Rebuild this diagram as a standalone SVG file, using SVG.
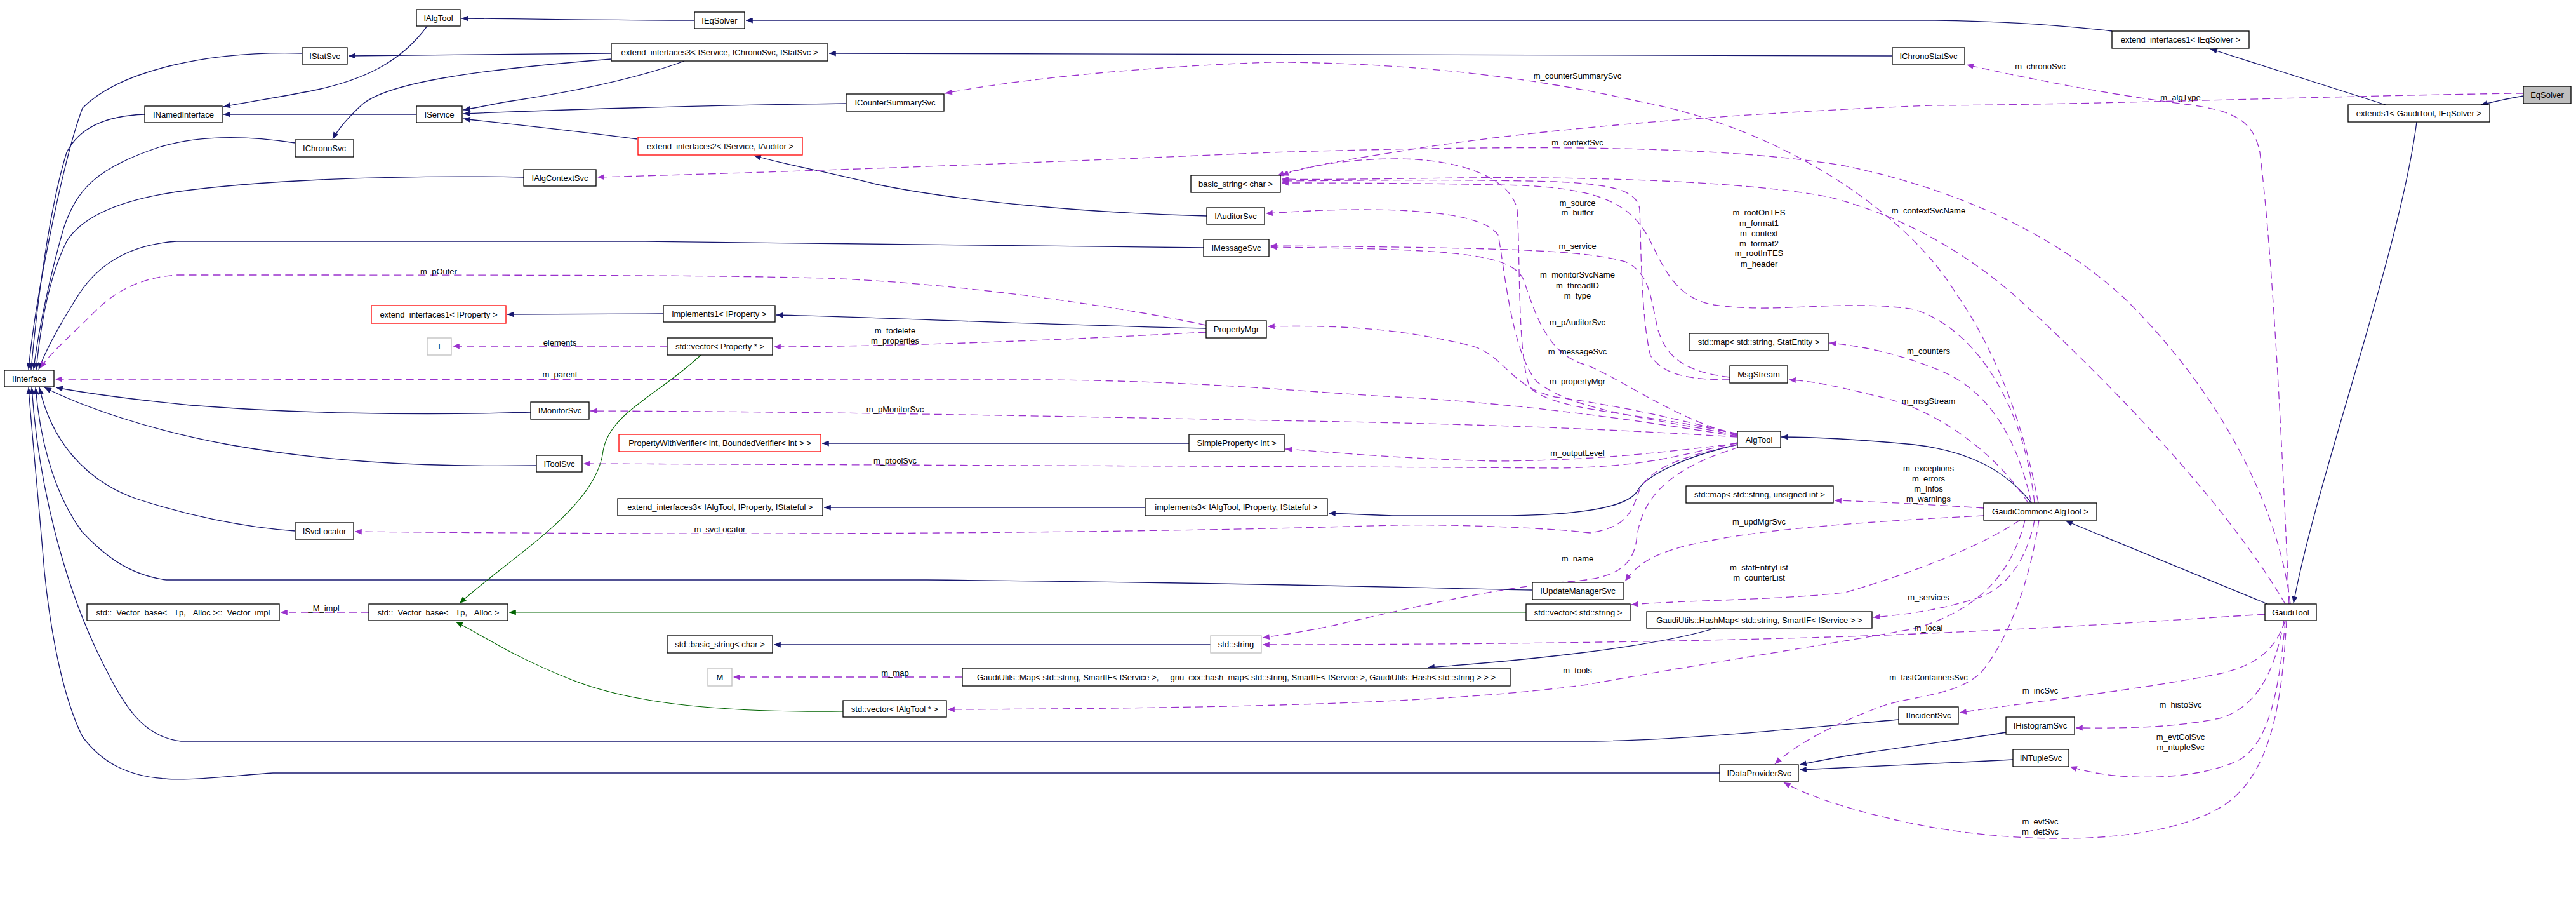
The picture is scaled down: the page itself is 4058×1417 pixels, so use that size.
<svg xmlns="http://www.w3.org/2000/svg" width="4058" height="1417" viewBox="0 0 4058 1417">
<style>
.n rect{fill:#fff;stroke:#000;stroke-width:1.3}
.n.r rect{stroke:#ff0000}
.n.g rect{stroke:#bfbfbf}
.n.cur rect{fill:#bfbfbf}
text{font-family:"Liberation Sans",Arial,sans-serif;font-size:13px;text-anchor:middle;dominant-baseline:central;fill:#000}
.i{stroke:#191970;fill:none;stroke-width:1.3;marker-end:url(#ai)}
.u{stroke:#9a32cd;fill:none;stroke-width:1.3;stroke-dasharray:12,7;marker-end:url(#au)}
.t{stroke:#006400;fill:none;stroke-width:1.1;marker-end:url(#at)}
</style>
<defs>
<marker id="ai" viewBox="0 0 12 10" markerUnits="userSpaceOnUse" markerWidth="12" markerHeight="9" refX="12" refY="5" orient="auto"><path d="M0,0 L12,5 L0,10 z" fill="#191970" stroke="none"/></marker>
<marker id="au" viewBox="0 0 12 10" markerUnits="userSpaceOnUse" markerWidth="12" markerHeight="9" refX="12" refY="5" orient="auto"><path d="M0,0 L12,5 L0,10 z" fill="#9a32cd" stroke="none"/></marker>
<marker id="at" viewBox="0 0 12 10" markerUnits="userSpaceOnUse" markerWidth="12" markerHeight="9" refX="12" refY="5" orient="auto"><path d="M0,0 L12,5 L0,10 z" fill="#006400" stroke="none"/></marker>
</defs>
<rect width="4058" height="1417" fill="#fff"/>
<g id="edges">
<!-- inheritance -->
<path class="i" d="M673,41 C630,100 570,125 505,140 C450,152 390,160 352,168"/>
<path class="i" d="M476,84 C330,80 190,110 130,170 C100,250 55,470 45,582"/>
<path class="i" d="M228,180 C170,182 125,200 105,240 C80,320 60,460 49,582"/>
<path class="i" d="M465,225 C400,215 320,210 250,232 C150,265 120,300 100,360 C80,430 60,520 53,582"/>
<path class="i" d="M825,279 C600,275 400,285 278,302 C190,315 130,340 105,380 C80,430 65,500 57,582"/>
<path class="i" d="M1896,390 C1500,386 1200,381 1000,380 L278,380 C200,385 150,420 120,470 C95,510 72,550 61,582"/>
<path class="i" d="M836,649 C650,655 450,650 300,638 C200,628 130,618 88,610"/>
<path class="i" d="M845,733 C650,736 500,725 360,700 C230,676 130,640 70,610"/>
<path class="i" d="M465,836 C380,830 290,810 214,785 C130,755 80,690 62,610"/>
<path class="i" d="M2414,929 C2200,925 2000,918 1460,913 L262,913 C200,905 160,870 129,837 C80,770 62,680 56,610"/>
<path class="i" d="M2991,1133 C2800,1150 2650,1165 2511,1167 L285,1167 C220,1160 190,1100 160,1040 C100,920 60,760 50,610"/>
<path class="i" d="M2709,1217 L430,1217 C380,1220 300,1230 260,1226 C200,1222 160,1200 130,1160 C100,1100 80,1000 70,900 C60,780 50,680 45,610"/>
<path class="i" d="M656,180 L352,180"/>
<path class="i" d="M1094,32 C900,32 800,29 727,29"/>
<path class="i" d="M3327,49 C3250,40 3150,33 3040,32 L1175,32"/>
<path class="i" d="M2981,88 L1306,84"/>
<path class="i" d="M963,84 L549,88"/>
<path class="i" d="M963,93 C750,110 610,130 570,165 C545,188 532,205 524,219"/>
<path class="i" d="M1078,96 C1000,125 900,145 800,160 C770,165 750,170 730,173"/>
<path class="i" d="M1333,163 C1100,166 900,172 730,179"/>
<path class="i" d="M1004,219 C900,205 800,195 730,187"/>
<path class="i" d="M1901,340 C1700,335 1500,315 1380,290 C1300,270 1240,260 1188,245"/>
<path class="i" d="M3758,165 L3482,77"/>
<path class="i" d="M3975,151 C3950,155 3930,160 3908,165"/>
<path class="i" d="M3807,192 C3780,400 3650,750 3613,950"/>
<path class="i" d="M3572,951 L3254,820"/>
<path class="i" d="M3200,792 C3160,740 3100,710 3015,700 C2930,692 2870,688 2806,688"/>
<path class="i" d="M2737,700 C2650,720 2590,750 2578,775 C2560,800 2480,812 2356,812 L2194,812 C2150,810 2120,809 2093,808"/>
<path class="i" d="M1804,799 L1298,799"/>
<path class="i" d="M1873,698 L1295,698"/>
<path class="i" d="M1900,517 C1600,510 1400,500 1223,496"/>
<path class="i" d="M1045,494 L799,495"/>
<path class="i" d="M1907,1015 L1219,1015"/>
<path class="i" d="M2702,989 C2600,1020 2400,1040 2249,1051"/>
<path class="i" d="M3160,1153 C3060,1170 2950,1180 2835,1204"/>
<path class="i" d="M3171,1196 C3060,1202 2950,1206 2835,1212"/>
<!-- template -->
<path class="t" d="M1104,559 C1040,620 960,650 950,710 C940,800 800,880 724,950"/>
<path class="t" d="M2404,964 L802,964"/>
<path class="t" d="M1328,1120 C1150,1122 1000,1110 900,1070 C800,1030 760,1000 718,979"/>
<!-- usage -->
<path class="u" d="M581,964 L442,964"/>
<path class="u" d="M1516,1066 L1155,1066"/>
<path class="u" d="M1051,545 L713,545"/>
<path class="u" d="M1900,523 C1800,528 1500,545 1219,546"/>
<path class="u" d="M1900,512 C1750,480 1500,445 1300,438 C1100,433 900,433 278,433 C220,437 180,460 150,490 C110,530 80,555 63,580"/>
<path class="u" d="M2737,687 C2600,665 2400,635 2200,625 C2050,617 1900,600 1647,598 L87,597"/>
<path class="u" d="M2737,688 C2600,680 2400,668 2000,662 C1700,656 1300,648 930,647"/>
<path class="u" d="M2737,697 C2650,715 2600,735 2453,737 C2200,735 1600,733 919,730"/>
<path class="u" d="M2737,698 C2600,715 2500,725 2356,726 C2200,722 2100,712 2025,707"/>
<path class="u" d="M2737,700 C2640,720 2600,740 2583,770 C2570,810 2560,830 2505,839 C2450,832 2300,825 2194,827 C1900,836 1500,841 1015,840 C800,839 650,838 559,837"/>
<path class="u" d="M2740,704 C2620,740 2585,790 2578,850 C2572,895 2540,910 2480,915 C2380,922 2250,950 2100,985 C2050,995 2020,1000 1989,1004"/>
<path class="u" d="M2737,683 C2640,660 2560,640 2450,625 C2380,610 2370,560 2320,545 C2200,515 2100,512 1997,514"/>
<path class="u" d="M2737,685 C2640,660 2560,600 2500,575 C2440,560 2420,500 2400,440 C2380,400 2300,392 2001,389"/>
<path class="u" d="M2737,686 C2620,660 2480,650 2420,600 C2380,550 2370,420 2360,370 C2340,340 2250,330 2150,330 C2080,330 2030,334 1994,336"/>
<path class="u" d="M2737,684 C2600,650 2450,650 2410,610 C2390,560 2395,400 2390,330 C2380,280 2300,250 2200,250 C2120,250 2060,262 2019,276"/>
<path class="u" d="M2725,598 C2660,598 2620,590 2600,560 C2585,500 2585,380 2583,330 C2580,300 2540,290 2450,286 C2300,282 2150,284 2019,285"/>
<path class="u" d="M2725,594 C2650,585 2625,560 2612,520 C2600,470 2600,430 2560,412 C2500,395 2400,390 2001,387"/>
<path class="u" d="M3211,792 C3190,680 3150,560 3080,460 C3000,330 2800,200 2583,160 C2400,118 2200,98 2000,98 C1800,105 1600,125 1489,147"/>
<path class="u" d="M3205,792 C3190,650 3120,520 3015,487 C2900,470 2800,495 2700,480 C2640,470 2620,420 2600,380 C2570,320 2520,298 2400,292 C2250,288 2100,288 2019,288"/>
<path class="u" d="M3600,951 C3500,780 3300,580 3179,470 C3100,400 3000,340 2880,310 C2750,285 2500,278 2300,280 C2150,282 2070,283 2019,282"/>
<path class="u" d="M3608,951 C3590,800 3500,620 3347,470 C3250,380 3100,300 2900,260 C2700,228 2400,228 2000,240 C1600,258 1200,272 941,279"/>
<path class="u" d="M3606,951 C3595,700 3580,400 3560,240 C3550,190 3520,175 3450,165 C3330,150 3200,125 3098,102"/>
<path class="u" d="M3975,147 C3700,150 3300,165 3040,166 C2700,180 2400,205 2194,240 C2100,255 2040,266 2012,277"/>
<path class="u" d="M3200,792 C3180,700 3140,620 3060,585 C3000,560 2940,545 2882,540"/>
<path class="u" d="M3195,792 C3150,720 3060,650 2971,627 C2900,610 2860,600 2818,598"/>
<path class="u" d="M3125,800 C3050,795 2960,790 2890,788"/>
<path class="u" d="M3125,812 C3000,818 2800,830 2700,850 C2620,865 2585,880 2560,915"/>
<path class="u" d="M3182,819 C3120,860 3020,900 2906,933 C2800,945 2650,945 2570,952"/>
<path class="u" d="M3205,819 C3195,870 3170,920 3120,940 C3060,960 3000,968 2951,972"/>
<path class="u" d="M3190,819 C3170,900 3120,960 3015,990 C2850,1020 2650,1050 2500,1078 C2300,1105 2000,1115 1493,1117"/>
<path class="u" d="M3212,819 C3200,900 3170,1000 3120,1060 C3080,1095 3020,1095 2970,1110 C2900,1135 2830,1170 2796,1203"/>
<path class="u" d="M3568,967 C3400,978 3234,989 3040,997 C2800,1008 2400,1015 1989,1015"/>
<path class="u" d="M3600,977 C3585,1020 3560,1045 3500,1060 C3380,1085 3200,1105 3087,1122"/>
<path class="u" d="M3598,977 C3585,1050 3560,1110 3500,1130 C3420,1148 3330,1146 3270,1146"/>
<path class="u" d="M3600,977 C3590,1100 3570,1180 3520,1200 C3450,1230 3330,1230 3261,1207"/>
<path class="u" d="M3602,977 C3595,1100 3580,1220 3500,1270 C3400,1330 3200,1330 3040,1302 C2950,1285 2860,1260 2810,1232"/>
</g>
<g id="edge-labels">
<text x="510" y="957">_M_impl</text>
<text x="1410" y="1059">m_map</text>
<text x="882" y="539">elements</text>
<text x="1410" y="520">m_todelete</text>
<text x="1410" y="536">m_properties</text>
<text x="691" y="427">m_pOuter</text>
<text x="882" y="589">m_parent</text>
<text x="1410" y="644">m_pMonitorSvc</text>
<text x="1410" y="725">m_ptoolSvc</text>
<text x="1134" y="833">m_svcLocator</text>
<text x="2485" y="119">m_counterSummarySvc</text>
<text x="2485" y="224">m_contextSvc</text>
<text x="2485" y="319">m_source</text>
<text x="2485" y="334">m_buffer</text>
<text x="2485" y="387">m_service</text>
<text x="2485" y="432">m_monitorSvcName</text>
<text x="2485" y="449">m_threadID</text>
<text x="2485" y="465">m_type</text>
<text x="2485" y="507">m_pAuditorSvc</text>
<text x="2485" y="553">m_messageSvc</text>
<text x="2485" y="600">m_propertyMgr</text>
<text x="2485" y="713">m_outputLevel</text>
<text x="2485" y="879">m_name</text>
<text x="2485" y="1055">m_tools</text>
<text x="2771" y="334">m_rootOnTES</text>
<text x="2771" y="351">m_format1</text>
<text x="2771" y="367">m_context</text>
<text x="2771" y="383">m_format2</text>
<text x="2771" y="398">m_rootInTES</text>
<text x="2771" y="415">m_header</text>
<text x="2771" y="821">m_updMgrSvc</text>
<text x="2771" y="893">m_statEntityList</text>
<text x="2771" y="909">m_counterList</text>
<text x="3038" y="331">m_contextSvcName</text>
<text x="3038" y="552">m_counters</text>
<text x="3038" y="631">m_msgStream</text>
<text x="3038" y="737">m_exceptions</text>
<text x="3038" y="753">m_errors</text>
<text x="3038" y="769">m_infos</text>
<text x="3038" y="785">m_warnings</text>
<text x="3038" y="940">m_services</text>
<text x="3038" y="988">m_local</text>
<text x="3038" y="1066">m_fastContainersSvc</text>
<text x="3214" y="104">m_chronoSvc</text>
<text x="3214" y="1087">m_incSvc</text>
<text x="3214" y="1293">m_evtSvc</text>
<text x="3214" y="1309">m_detSvc</text>
<text x="3435" y="153">m_algType</text>
<text x="3435" y="1109">m_histoSvc</text>
<text x="3435" y="1160">m_evtColSvc</text>
<text x="3435" y="1176">m_ntupleSvc</text>
</g>
<g id="IAlgTool" class="n"><rect x="656" y="15" width="69" height="26"/><text x="690.5" y="28">IAlgTool</text></g>
<g id="IEqSolver" class="n"><rect x="1094" y="19" width="79" height="26"/><text x="1133.5" y="32">IEqSolver</text></g>
<g id="extend_interfaces1_IEqSolver" class="n"><rect x="3327" y="49" width="216" height="27"/><text x="3435" y="62.5">extend_interfaces1&lt; IEqSolver &gt;</text></g>
<g id="IStatSvc" class="n"><rect x="476" y="75" width="71" height="26"/><text x="511.5" y="88">IStatSvc</text></g>
<g id="extend_interfaces3_IService" class="n"><rect x="963" y="69" width="341" height="27"/><text x="1133.5" y="82.5">extend_interfaces3&lt; IService, IChronoSvc, IStatSvc &gt;</text></g>
<g id="IChronoStatSvc" class="n"><rect x="2981" y="75" width="114" height="26"/><text x="3038" y="88">IChronoStatSvc</text></g>
<g id="EqSolver" class="n cur"><rect x="3975" y="136" width="75" height="27"/><text x="4012.5" y="149.5">EqSolver</text></g>
<g id="extends1" class="n"><rect x="3699" y="165" width="223" height="27"/><text x="3810.5" y="178.5">extends1&lt; GaudiTool, IEqSolver &gt;</text></g>
<g id="ICounterSummarySvc" class="n"><rect x="1333" y="148" width="154" height="27"/><text x="1410" y="161.5">ICounterSummarySvc</text></g>
<g id="INamedInterface" class="n"><rect x="228" y="167" width="122" height="26"/><text x="289" y="180">INamedInterface</text></g>
<g id="IService" class="n"><rect x="656" y="167" width="72" height="26"/><text x="692" y="180">IService</text></g>
<g id="IChronoSvc" class="n"><rect x="465" y="220" width="92" height="27"/><text x="511" y="233.5">IChronoSvc</text></g>
<g id="extend_interfaces2" class="n r"><rect x="1005" y="216" width="259" height="28"/><text x="1134.5" y="230">extend_interfaces2&lt; IService, IAuditor &gt;</text></g>
<g id="IAlgContextSvc" class="n"><rect x="825" y="267" width="114" height="26"/><text x="882" y="280">IAlgContextSvc</text></g>
<g id="basic_string_char" class="n"><rect x="1876" y="276" width="141" height="27"/><text x="1946.5" y="289.5">basic_string&lt; char &gt;</text></g>
<g id="IAuditorSvc" class="n"><rect x="1901" y="327" width="91" height="26"/><text x="1946.5" y="340">IAuditorSvc</text></g>
<g id="IMessageSvc" class="n"><rect x="1896" y="377" width="103" height="27"/><text x="1947.5" y="390.5">IMessageSvc</text></g>
<g id="extend_interfaces1_IProperty" class="n r"><rect x="585" y="481" width="212" height="28"/><text x="691" y="495">extend_interfaces1&lt; IProperty &gt;</text></g>
<g id="implements1_IProperty" class="n"><rect x="1045" y="481" width="176" height="26"/><text x="1133" y="494">implements1&lt; IProperty &gt;</text></g>
<g id="PropertyMgr" class="n"><rect x="1900" y="505" width="95" height="27"/><text x="1947.5" y="518.5">PropertyMgr</text></g>
<g id="map_StatEntity" class="n"><rect x="2661" y="525" width="219" height="27"/><text x="2770.5" y="538.5">std::map&lt; std::string, StatEntity &gt;</text></g>
<g id="T" class="n g"><rect x="673" y="532" width="38" height="27"/><text x="692" y="545.5">T</text></g>
<g id="vector_Property" class="n"><rect x="1051" y="532" width="166" height="27"/><text x="1134" y="545.5">std::vector&lt; Property * &gt;</text></g>
<g id="MsgStream" class="n"><rect x="2725" y="576" width="91" height="27"/><text x="2770.5" y="589.5">MsgStream</text></g>
<g id="IInterface" class="n"><rect x="7" y="583" width="78" height="26"/><text x="46" y="596">IInterface</text></g>
<g id="IMonitorSvc" class="n"><rect x="836" y="633" width="92" height="27"/><text x="882" y="646.5">IMonitorSvc</text></g>
<g id="AlgTool" class="n"><rect x="2737" y="679" width="68" height="26"/><text x="2771" y="692">AlgTool</text></g>
<g id="PropertyWithVerifier" class="n r"><rect x="975" y="684" width="318" height="27"/><text x="1134" y="697.5">PropertyWithVerifier&lt; int, BoundedVerifier&lt; int &gt; &gt;</text></g>
<g id="SimpleProperty_int" class="n"><rect x="1873" y="684" width="150" height="27"/><text x="1948" y="697.5">SimpleProperty&lt; int &gt;</text></g>
<g id="IToolSvc" class="n"><rect x="845" y="717" width="72" height="26"/><text x="881" y="730">IToolSvc</text></g>
<g id="map_unsigned" class="n"><rect x="2656" y="765" width="232" height="27"/><text x="2772" y="778.5">std::map&lt; std::string, unsigned int &gt;</text></g>
<g id="extend_interfaces3_IAlgTool" class="n"><rect x="973" y="785" width="323" height="27"/><text x="1134.5" y="798.5">extend_interfaces3&lt; IAlgTool, IProperty, IStateful &gt;</text></g>
<g id="implements3" class="n"><rect x="1804" y="785" width="287" height="27"/><text x="1947.5" y="798.5">implements3&lt; IAlgTool, IProperty, IStateful &gt;</text></g>
<g id="GaudiCommon_AlgTool" class="n"><rect x="3125" y="792" width="178" height="27"/><text x="3214" y="805.5">GaudiCommon&lt; AlgTool &gt;</text></g>
<g id="ISvcLocator" class="n"><rect x="465" y="823" width="92" height="26"/><text x="511" y="836">ISvcLocator</text></g>
<g id="IUpdateManagerSvc" class="n"><rect x="2414" y="917" width="143" height="27"/><text x="2485.5" y="930.5">IUpdateManagerSvc</text></g>
<g id="Vector_impl" class="n"><rect x="137" y="951" width="303" height="26"/><text x="288.5" y="964">std::_Vector_base&lt; _Tp, _Alloc &gt;::_Vector_impl</text></g>
<g id="Vector_base" class="n"><rect x="581" y="951" width="219" height="26"/><text x="690.5" y="964">std::_Vector_base&lt; _Tp, _Alloc &gt;</text></g>
<g id="vector_string" class="n"><rect x="2404" y="951" width="164" height="26"/><text x="2486" y="964">std::vector&lt; std::string &gt;</text></g>
<g id="GaudiTool" class="n"><rect x="3568" y="951" width="81" height="26"/><text x="3608.5" y="964">GaudiTool</text></g>
<g id="HashMap" class="n"><rect x="2594" y="963" width="355" height="26"/><text x="2771.5" y="976">GaudiUtils::HashMap&lt; std::string, SmartIF&lt; IService &gt; &gt;</text></g>
<g id="std_basic_string" class="n"><rect x="1051" y="1001" width="166" height="27"/><text x="1134" y="1014.5">std::basic_string&lt; char &gt;</text></g>
<g id="std_string" class="n g"><rect x="1907" y="1001" width="80" height="27"/><text x="1947" y="1014.5">std::string</text></g>
<g id="M" class="n g"><rect x="1115" y="1052" width="38" height="28"/><text x="1134" y="1066">M</text></g>
<g id="GaudiUtils_Map" class="n"><rect x="1516" y="1052" width="863" height="28"/><text x="1947.5" y="1066">GaudiUtils::Map&lt; std::string, SmartIF&lt; IService &gt;, __gnu_cxx::hash_map&lt; std::string, SmartIF&lt; IService &gt;, GaudiUtils::Hash&lt; std::string &gt; &gt; &gt;</text></g>
<g id="vector_IAlgTool" class="n"><rect x="1328" y="1103" width="163" height="26"/><text x="1409.5" y="1116">std::vector&lt; IAlgTool * &gt;</text></g>
<g id="IIncidentSvc" class="n"><rect x="2991" y="1113" width="94" height="27"/><text x="3038" y="1126.5">IIncidentSvc</text></g>
<g id="IHistogramSvc" class="n"><rect x="3160" y="1129" width="108" height="27"/><text x="3214" y="1142.5">IHistogramSvc</text></g>
<g id="INTupleSvc" class="n"><rect x="3171" y="1180" width="88" height="27"/><text x="3215" y="1193.5">INTupleSvc</text></g>
<g id="IDataProviderSvc" class="n"><rect x="2709" y="1204" width="124" height="27"/><text x="2771" y="1217.5">IDataProviderSvc</text></g>
</svg>
